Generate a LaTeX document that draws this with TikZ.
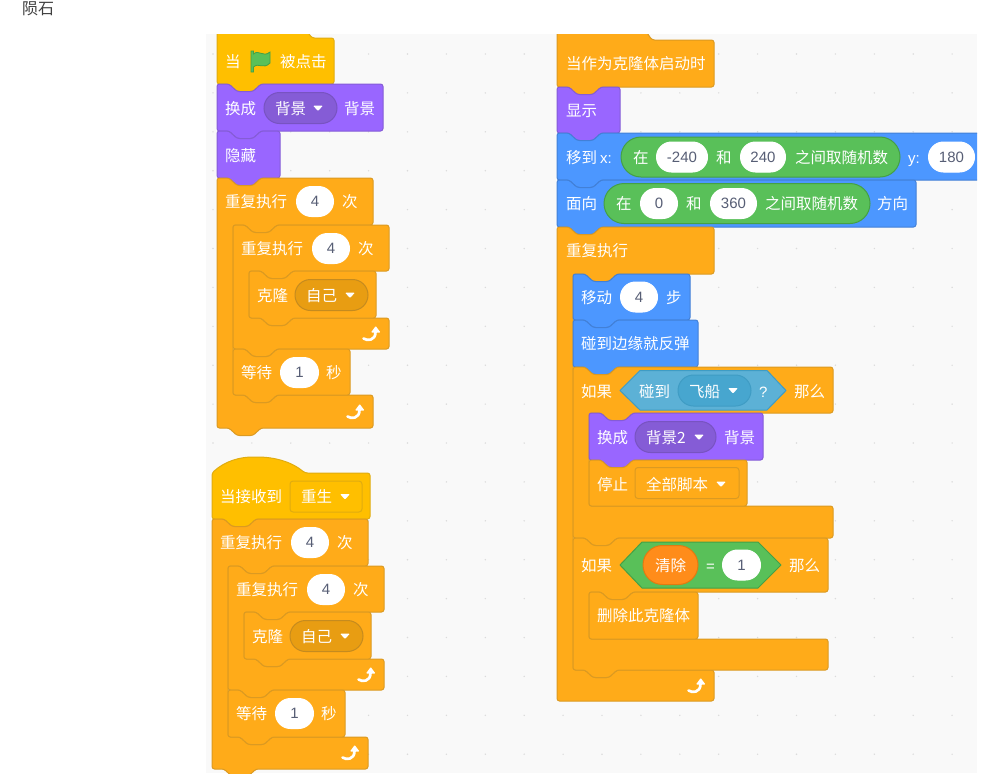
\documentclass[tikz,border=0pt]{standalone}
\usepackage{fontspec}
\setmainfont{Noto Sans CJK SC}
\newfontfamily\numfont{Liberation Sans}
\usetikzlibrary{shapes.misc}
\definecolor{ctl}{HTML}{FFAB19}\definecolor{ctlb}{HTML}{DB9A22}\definecolor{ctld}{HTML}{E89D12}
\definecolor{evt}{HTML}{FFBF00}\definecolor{evtb}{HTML}{E0AC10}
\definecolor{lks}{HTML}{9966FF}\definecolor{lksb}{HTML}{855CD6}\definecolor{lksd}{HTML}{855CD6}
\definecolor{mot}{HTML}{4C97FF}\definecolor{motb}{HTML}{4280D7}
\definecolor{opr}{HTML}{59C059}\definecolor{oprb}{HTML}{45A045}
\definecolor{sen}{HTML}{5CB1D6}\definecolor{senb}{HTML}{3F9CC4}\definecolor{send}{HTML}{47A6CF}
\definecolor{varo}{HTML}{FF8C1A}\definecolor{varb}{HTML}{E27A10}
\definecolor{numc}{HTML}{575E75}\definecolor{panel}{HTML}{F9F9F9}
\newcounter{nc}
\tikzset{
 blk/.style={line width=1pt,rounded corners=2.5pt,line join=round},
 ctlblk/.style={blk,fill=ctl,draw=ctlb},
 evtblk/.style={blk,fill=evt,draw=evtb},
 lksblk/.style={blk,fill=lks,draw=lksb},
 motblk/.style={blk,fill=mot,draw=motb},
 lab/.style={anchor=west,inner sep=0pt,text=white,font=\fontsize{15.5}{16}\selectfont,text height=13.5pt,text depth=1.5pt},
 lat/.style={lab,font=\numfont\fontsize{15}{16}\selectfont},
 pillbase/.style={rounded rectangle,inner sep=0pt,line width=1pt,text=numc,font=\numfont\fontsize{15}{16}\selectfont},
 whitepill/.style={pillbase,fill=white,draw=white},
 ddctl/.style={pillbase,fill=ctld,draw=ctlb!90!black},
 ddlks/.style={pillbase,fill=lksd,draw=lksb!90!black},
 ddsen/.style={pillbase,fill=send,draw=senb},
 opil/.style={pillbase,fill=opr,draw=oprb},
 vpil/.style={pillbase,fill=varo,draw=varb},
 boxctl/.style={rectangle,rounded corners=3pt,inner sep=0pt,line width=1pt,fill=ctl,draw=ctlb},
 boxevt/.style={rectangle,rounded corners=3pt,inner sep=0pt,line width=1pt,fill=evt,draw=evtb},
}
\def\NT#1#2{-- ({#1+12},{#2}) -- ({#1+20},{#2+7.5}) -- ({#1+36},{#2+7.5}) -- ({#1+44},{#2}) }
\def\NB#1#2{-- ({#1+44},{#2}) -- ({#1+36},{#2+7.5}) -- ({#1+20},{#2+7.5}) -- ({#1+12},{#2}) }
% style x1 y1 x2 y2
\newcommand\stk[5]{\path[#1] (#2,{#3+8}) -- (#2,#3) \NT{#2}{#3} -- (#4,#3) -- (#4,#5) \NB{#2}{#5} -- (#2,#5) -- cycle;}
\newcommand\stkend[5]{\path[#1] (#2,{#3+8}) -- (#2,#3) \NT{#2}{#3} -- (#4,#3) -- (#4,#5) -- (#2,#5) -- cycle;}
% x1 y1 x2 yh yb yend
\newcommand\cbl[6]{\path[ctlblk] (#1,{#2+8}) -- (#1,#2) \NT{#1}{#2} -- (#3,#2) -- (#3,#4) \NB{#1+16}{#4} -- ({#1+16},#4) -- ({#1+16},#5) \NT{#1+16}{#5} -- (#3,#5) -- (#3,#6) \NB{#1}{#6} -- (#1,#6) -- cycle;}
\newcommand\cblflat[6]{\path[ctlblk] (#1,{#2+8}) -- (#1,#2) \NT{#1}{#2} -- (#3,#2) -- (#3,#4) \NB{#1+16}{#4} -- ({#1+16},#4) -- ({#1+16},#5) -- (#3,#5) -- (#3,#6) \NB{#1}{#6} -- (#1,#6) -- cycle;}
\newcommand\cblend[6]{\path[ctlblk] (#1,{#2+8}) -- (#1,#2) \NT{#1}{#2} -- (#3,#2) -- (#3,#4) \NB{#1+16}{#4} -- ({#1+16},#4) -- ({#1+16},#5) \NT{#1+16}{#5} -- (#3,#5) -- (#3,#6) -- (#1,#6) -- cycle;}
\newcommand\tx[3]{\stepcounter{nc}\node[lab] (t\arabic{nc}) at (#1,#2) {#3};}
\newcommand\pil[5]{\stepcounter{nc}\node[#1,minimum width={(#3)-(#2)},minimum height={#5}] (p\arabic{nc}) at ({((#2)+(#3))/2},#4) {};}
\newcommand\inp[4]{\stepcounter{nc}\node[whitepill,minimum width={(#2)-(#1)-1},minimum height=30pt] (p\arabic{nc}) at ({((#1)+(#2))/2},#3) {#4};}
\newcommand\tri[2]{\fill[white,rounded corners=1pt] ({#1-5},{#2-2.5}) -- ({#1+5},{#2-2.5}) -- (#1,{#2+3}) -- cycle;}
\newcommand\turnarr[2]{\draw[white,line width=2.7pt,line cap=round] ({#1-7.5},{#2+4.5}) .. controls ({#1-4},{#2+7}) and ({#1+4.5},{#2+7}) .. ({#1+4.5},{#2-2});
 \fill[white,rounded corners=.8pt] ({#1+4.7},{#2-8}) -- ({#1+9.5},{#2-1.5}) -- ({#1},{#2-1.5}) -- cycle;}
\newcommand\labrep[2]{\tx{#1+8}{#2+23}{重复执行}\inp{#1+79}{#1+117}{#2+23.5}{4}\tx{#1+125}{#2+23}{次}}
\begin{document}
\begin{tikzpicture}[x=1pt,y=-1pt]
\path[use as bounding box,fill=white] (0,0) rectangle (1002,777);
\node[anchor=west,inner sep=0pt,text=black!75,font=\fontsize{16}{16}\selectfont] (title) at (22,9) {陨石};
\fill[panel] (206,34) rectangle (977,773);
\foreach \i in {0,...,19}{\foreach \j in {0,...,18}{
  \fill[black!14] ({213+38.9*\i},{54+38.9*\j}) circle[radius=.8pt];}}
\begin{scope}
\clip (206,34) rectangle (977,773);
%% stack 1
\path[evtblk] (217,40) -- (217,30) -- (306,30) -- (312,38) -- (334,38) -- (334,84) \NB{217}{84} -- (217,84) -- cycle;
\stk{lksblk}{217}{84}{383}{131}
\stk{lksblk}{217}{131}{280}{178}
\cbl{217}{178}{373}{225}{395}{428}
\cbl{233}{225}{389}{271}{318}{349}
\stk{ctlblk}{249}{271}{376}{318}
\stk{ctlblk}{233}{349}{350}{395}
\tx{225}{61}{当}\tx{280}{61}{被点击}
\path[fill=opr,draw=oprb,line width=.8pt] (251,51) -- (251,72) -- (253.5,72) -- (253.5,67)
 .. controls (259,62) and (263,70) .. (270,63) -- (270,52) .. controls (263,58) and (259,49) .. (253.5,54) -- (253.5,51) -- cycle;
\tx{225}{108}{换成}\pil{ddlks}{264}{337}{108}{31pt}\tx{275}{108}{背景}\tri{318}{108}\tx{344}{108}{背景}
\tx{225}{155}{隐藏}
\labrep{217}{178}
\labrep{233}{225}
\tx{257}{295}{克隆}\pil{ddctl}{295}{368}{295}{31pt}\tx{306}{295}{自己}\tri{350}{295}
\turnarr{371}{334}
\tx{241}{372}{等待}\inp{280}{319}{372.5}{1}\tx{326}{372}{秒}
\turnarr{355}{412}
%% stack 2
\path[evtblk] (212,473) .. controls (225,461) and (240,457) .. (255,457) .. controls (275,457) and (292,462) .. (305,473) -- (370,473) -- (370,519) \NB{212}{519} -- (212,519) -- cycle;
\cbl{212}{519}{368}{566}{737}{769}
\cbl{228}{566}{384}{612}{659}{690}
\stk{ctlblk}{244}{612}{371}{659}
\stk{ctlblk}{228}{690}{345}{737}
\tx{220}{496}{当接收到}\pil{boxevt}{290}{362}{496.5}{31pt}\tx{301}{496}{重生}\tri{345}{496.5}
\labrep{212}{519}
\labrep{228}{566}
\tx{252}{636}{克隆}\pil{ddctl}{290}{363}{636}{31pt}\tx{301}{636}{自己}\tri{345}{636}
\turnarr{366}{675}
\tx{236}{713}{等待}\inp{275}{314}{713.5}{1}\tx{321}{713}{秒}
\turnarr{350}{753}
%% stack 3
\path[ctlblk] (557,42) -- (557,30) -- (645,30) -- (652,40) -- (714,40) -- (714,87) \NB{557}{87} -- (557,87) -- cycle;
\stk{lksblk}{557}{87}{620}{133}
\stk{motblk}{557}{133}{990}{180}
\stk{motblk}{557}{180}{916}{227}
\cblend{557}{227}{714}{274}{670}{701}
\stk{motblk}{573}{274}{690}{320}
\stk{motblk}{573}{320}{698}{367}
\cblflat{573}{367}{833}{413}{506}{538}
\stk{lksblk}{589}{413}{763}{460}
\stkend{ctlblk}{589}{460}{747}{506}
\cblflat{573}{538}{828}{592}{639}{670}
\stkend{ctlblk}{589}{592}{698}{639}
\tx{566}{63}{当作为克隆体启动时}
\tx{566}{110}{显示}
\tx{566}{157}{移到}
\node[lat] (xlab) at (600,157) {x:};
\pil{opil}{621}{900}{157}{40pt}
\tx{633}{157}{在}\inp{656}{708}{157}{-240}\tx{716}{157}{和}\inp{740}{786}{157}{240}\tx{795}{157}{之间取随机数}
\node[lat] (ylab) at (908,157) {y:};
\inp{928}{975}{157}{180}
\tx{566}{203}{面向}
\pil{opil}{604}{870}{203.5}{40pt}
\tx{616}{203}{在}\inp{640}{678}{203.5}{0}\tx{686}{203}{和}\inp{710}{757}{203.5}{360}\tx{765}{203}{之间取随机数}\tx{877}{203}{方向}
\tx{566}{250}{重复执行}
\tx{581}{297}{移动}\inp{620}{658}{297}{4}\tx{666}{297}{步}
\tx{581}{343}{碰到边缘就反弹}
\tx{581}{391}{如果}
\path[fill=sen,draw=senb,line width=1pt,line join=round] (620,390.5) -- (640,370.5) -- (767,370.5) -- (786,390.5) -- (767,410) -- (640,410) -- cycle;
\tx{639}{391}{碰到}\pil{ddsen}{678}{751}{390.5}{31pt}\tx{689}{391}{飞船}\tri{733}{390.5}
\node[lat] (qm) at (759,391) {?};
\tx{794}{391}{那么}
\tx{597}{437}{换成}\pil{ddlks}{635}{716}{437}{31pt}\tx{646}{437}{背景2}\tri{699}{437}\tx{724}{437}{背景}
\tx{597}{484}{停止}\pil{boxctl}{635}{739}{483}{31pt}\tx{646}{484}{全部脚本}\tri{721}{484}
\tx{581}{565}{如果}
\path[fill=opr,draw=oprb,line width=1pt,line join=round] (620,565) -- (642,542) -- (758,542) -- (781,565) -- (758,588) -- (642,588) -- cycle;
\pil{vpil}{643}{698}{565}{39pt}\tx{655}{565}{清除}
\node[lat] (eq) at (706,565.5) {=};
\inp{722}{761}{565}{1}
\tx{789}{565}{那么}
\tx{597}{615}{删除此克隆体}
\turnarr{696}{686}
\end{scope}
\end{tikzpicture}
\end{document}
